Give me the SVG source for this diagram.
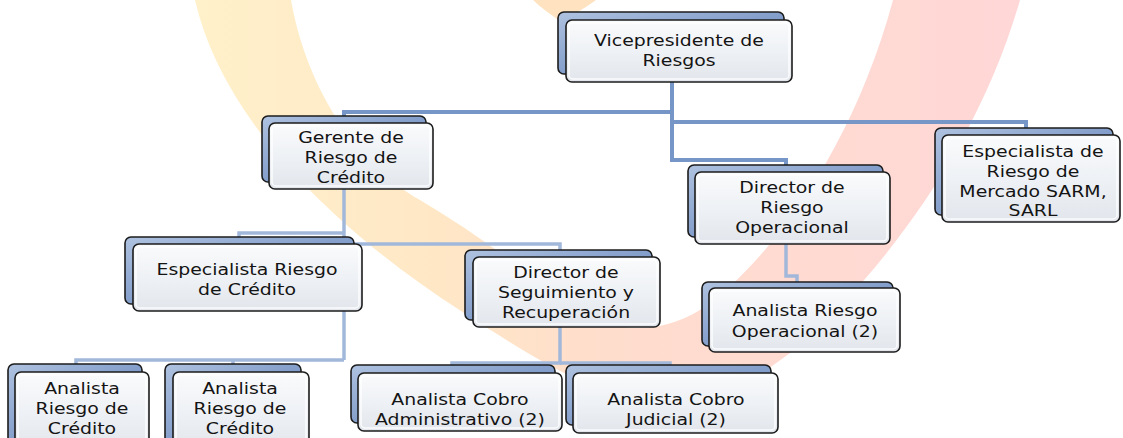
<svg xmlns="http://www.w3.org/2000/svg" width="1123" height="438" viewBox="0 0 1123 438">
<defs>
<linearGradient id="bandGrad" gradientUnits="userSpaceOnUse" x1="190" y1="0" x2="1030" y2="0">
<stop offset="0" stop-color="#FFF1CA"/>
<stop offset="0.3" stop-color="#FFE7C6"/>
<stop offset="0.5" stop-color="#FFDDCD"/>
<stop offset="1" stop-color="#FFD7D7"/>
</linearGradient>
<linearGradient id="backGrad" x1="0" y1="0" x2="1" y2="1">
<stop offset="0" stop-color="#AFC2E0"/>
<stop offset="0.5" stop-color="#849FCB"/>
<stop offset="1" stop-color="#6888B9"/>
</linearGradient>
<linearGradient id="frontGrad" x1="0" y1="0" x2="0" y2="1">
<stop offset="0" stop-color="#FAFBFC"/>
<stop offset="0.5" stop-color="#EEF1F5"/>
<stop offset="1" stop-color="#E2E6EC"/>
</linearGradient>
<style>
.back{fill:url(#backGrad);stroke:#1c1c1c;stroke-width:1.6}
.front{fill:url(#frontGrad);stroke:#1c1c1c;stroke-width:1.6}
.bevel{fill:none;stroke:#ffffff;stroke-width:1.5;opacity:0.85}
.t{font-family:"DejaVu Sans","Verdana",sans-serif;font-size:16px;fill:#141414;text-anchor:middle}
.c1{fill:none;stroke:#7596C6;stroke-width:4}
.c2{fill:none;stroke:#A2B8DA;stroke-width:3.5}
</style>
</defs>
<rect width="1123" height="438" fill="#ffffff"/>
<g id="background">
<path d="M195,0 C220,110 320,220 461,311 C540,362 600,400 660,400 C720,400 760,378 800,345 C890,265 980,140 1020,0 L893,0 C850,160 760,270 700,310 C650,340 600,330 560,300 C520,265 470,230 420,200 C350,160 305,80 291,0 Z" fill="url(#bandGrad)"/>
<path d="M533,0 L596,0 C585,8 572,16 560,21 C550,14 540,7 533,0 Z" fill="#FFE3C0"/>
</g>
<g id="connectors">
<path class="c1" d="M672,82 V160 H786 V166"/>
<path class="c1" d="M672,112 H344 V117"/>
<path class="c1" d="M672,122 H1026 V129"/>
<path class="c2" d="M344,189 V360"/>
<path class="c2" d="M344,233 H239 V238"/>
<path class="c2" d="M344,244 H560 V251"/>
<path class="c2" d="M344,360 H76 V365"/>
<path class="c2" d="M233,360 V365"/>
<path class="c2" d="M560,327 V363 H452 V366"/>
<path class="c2" d="M560,363 H670 V366"/>
<path class="c2" d="M786,244 V276 H797 V283"/>
</g>
<g id="n1">
<rect class="back" x="558" y="12" width="226" height="62" rx="6"/>
<rect class="front" x="566" y="20" width="226" height="62" rx="6"/>
<rect class="bevel" x="569" y="23" width="220" height="56" rx="4"/>
<text class="t" transform="translate(679 0) scale(1.18 1)"><tspan x="0" y="46">Vicepresidente de</tspan><tspan x="0" y="66">Riesgos</tspan></text>
</g>
<g id="n2">
<rect class="back" x="262" y="116" width="164" height="66" rx="6"/>
<rect class="front" x="269" y="123" width="164" height="66" rx="6"/>
<rect class="bevel" x="272" y="126" width="158" height="60" rx="4"/>
<text class="t" transform="translate(351 0) scale(1.18 1)"><tspan x="0" y="143">Gerente de</tspan><tspan x="0" y="163">Riesgo de</tspan><tspan x="0" y="183">Crédito</tspan></text>
</g>
<g id="n3">
<rect class="back" x="688" y="165" width="195" height="72" rx="6"/>
<rect class="front" x="695" y="172" width="195" height="72" rx="6"/>
<rect class="bevel" x="698" y="175" width="189" height="66" rx="4"/>
<text class="t" transform="translate(792 0) scale(1.18 1)"><tspan x="0" y="193">Director de</tspan><tspan x="0" y="213">Riesgo</tspan><tspan x="0" y="233">Operacional</tspan></text>
</g>
<g id="n4">
<rect class="back" x="935" y="128" width="178" height="87" rx="6"/>
<rect class="front" x="942" y="135" width="178" height="87" rx="6"/>
<rect class="bevel" x="945" y="138" width="172" height="81" rx="4"/>
<text class="t" transform="translate(1033 0) scale(1.18 1)"><tspan x="0" y="157">Especialista de</tspan><tspan x="0" y="177">Riesgo de</tspan><tspan x="0" y="197">Mercado SARM,</tspan><tspan x="0" y="216">SARL</tspan></text>
</g>
<g id="n5">
<rect class="back" x="125" y="237" width="229" height="67" rx="6"/>
<rect class="front" x="133" y="244" width="229" height="67" rx="6"/>
<rect class="bevel" x="136" y="247" width="223" height="61" rx="4"/>
<text class="t" transform="translate(247 0) scale(1.18 1)"><tspan x="0" y="275">Especialista Riesgo</tspan><tspan x="0" y="295">de Crédito</tspan></text>
</g>
<g id="n6">
<rect class="back" x="465" y="250" width="187" height="70" rx="6"/>
<rect class="front" x="473" y="257" width="187" height="70" rx="6"/>
<rect class="bevel" x="476" y="260" width="181" height="64" rx="4"/>
<text class="t" transform="translate(566 0) scale(1.18 1)"><tspan x="0" y="278">Director de</tspan><tspan x="0" y="298">Seguimiento y</tspan><tspan x="0" y="318">Recuperación</tspan></text>
</g>
<g id="n7">
<rect class="back" x="702" y="282" width="191" height="64" rx="6"/>
<rect class="front" x="709" y="288" width="191" height="64" rx="6"/>
<rect class="bevel" x="712" y="291" width="185" height="58" rx="4"/>
<text class="t" transform="translate(805 0) scale(1.18 1)"><tspan x="0" y="316">Analista Riesgo</tspan><tspan x="0" y="337">Operacional (2)</tspan></text>
</g>
<g id="n8">
<rect class="back" x="8" y="364" width="134" height="80" rx="6"/>
<rect class="front" x="15" y="372" width="134" height="80" rx="6"/>
<rect class="bevel" x="18" y="375" width="128" height="74" rx="4"/>
<text class="t" transform="translate(82 0) scale(1.18 1)"><tspan x="0" y="394">Analista</tspan><tspan x="0" y="414">Riesgo de</tspan><tspan x="0" y="434">Crédito</tspan></text>
</g>
<g id="n9">
<rect class="back" x="165" y="364" width="136" height="80" rx="6"/>
<rect class="front" x="173" y="372" width="136" height="80" rx="6"/>
<rect class="bevel" x="176" y="375" width="130" height="74" rx="4"/>
<text class="t" transform="translate(240 0) scale(1.18 1)"><tspan x="0" y="394">Analista</tspan><tspan x="0" y="414">Riesgo de</tspan><tspan x="0" y="434">Crédito</tspan></text>
</g>
<g id="n10">
<rect class="back" x="351" y="365" width="204" height="58" rx="6"/>
<rect class="front" x="358" y="373" width="204" height="58" rx="6"/>
<rect class="bevel" x="361" y="376" width="198" height="52" rx="4"/>
<text class="t" transform="translate(460 0) scale(1.18 1)"><tspan x="0" y="405">Analista Cobro</tspan><tspan x="0" y="425">Administrativo (2)</tspan></text>
</g>
<g id="n11">
<rect class="back" x="566" y="365" width="205" height="60" rx="6"/>
<rect class="front" x="573" y="373" width="205" height="60" rx="6"/>
<rect class="bevel" x="576" y="376" width="199" height="54" rx="4"/>
<text class="t" transform="translate(676 0) scale(1.18 1)"><tspan x="0" y="405">Analista Cobro</tspan><tspan x="0" y="425">Judicial (2)</tspan></text>
</g>
</svg>
